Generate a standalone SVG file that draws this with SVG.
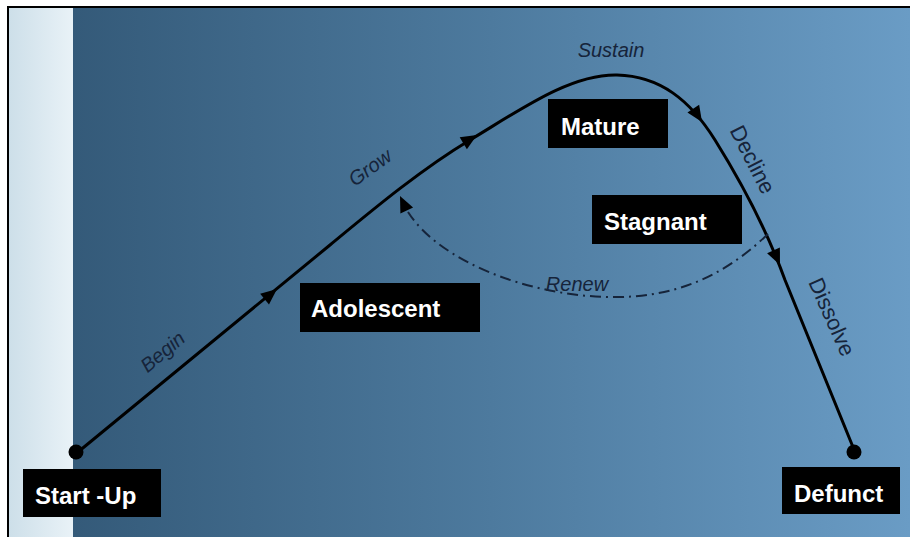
<svg xmlns="http://www.w3.org/2000/svg" width="910" height="537" viewBox="0 0 910 537">
<defs>
<linearGradient id="bg" x1="0" y1="0" x2="1" y2="0">
<stop offset="0" stop-color="#345a79"/>
<stop offset="0.5" stop-color="#4d7a9e"/>
<stop offset="1" stop-color="#6a9cc5"/>
</linearGradient>
<linearGradient id="strip" x1="0" y1="0" x2="1" y2="0">
<stop offset="0" stop-color="#cddfe9"/>
<stop offset="1" stop-color="#e9f2f7"/>
</linearGradient>
<polygon id="ah" points="0,0 -16,-7 -16,7"/>
</defs>
<style>
.box{fill:#000}
.bt{font-family:"Liberation Sans",Arial,sans-serif;font-weight:bold;font-size:24px;fill:#fff}
.lb{font-family:"Liberation Sans",Arial,sans-serif;font-style:italic;font-size:20px;fill:#16243a}
.lr{font-family:"Liberation Sans",Arial,sans-serif;font-size:22px;fill:#16243a}
.curve{fill:none;stroke:#000;stroke-width:3}
.renew{fill:none;stroke:#16243a;stroke-width:2;stroke-dasharray:11 5 2 5}
</style>
<rect x="0" y="0" width="910" height="537" fill="#fff"/>
<rect x="9" y="8" width="64" height="529" fill="url(#strip)"/>
<rect x="73" y="8" width="837" height="529" fill="url(#bg)"/>
<line x1="8" y1="7" x2="910" y2="7" stroke="#000" stroke-width="2"/>
<line x1="8" y1="6" x2="8" y2="537" stroke="#000" stroke-width="2"/>

<g id="connectors">
<path class="curve" d="M78,452 L330,245 C370,212 420,170 470,140 C520,110 570,74 617,75 C660,76 690,100 715,140 C740,180 765,225 785,280 L855,452"/>
<use href="#ah" transform="translate(277,289) rotate(-39)"/>
<use href="#ah" transform="translate(477,135) rotate(-31)"/>
<use href="#ah" transform="translate(702,122) rotate(57)"/>
<use href="#ah" transform="translate(780,265) rotate(66)"/>
<path class="renew" d="M768,234 C720,280 670,298 610,297 C530,296 440,262 408,212"/>
<use href="#ah" fill="#000" transform="translate(400,196) rotate(-115)"/>
<circle cx="76" cy="452" r="7.5" fill="#000"/>
<circle cx="854" cy="452" r="7.5" fill="#000"/>
</g>

<g id="labels">
<text class="lb" transform="translate(167,357) rotate(-40)" text-anchor="middle">Begin</text>
<text class="lb" transform="translate(374,173) rotate(-36)" text-anchor="middle">Grow</text>
<text class="lb" x="611" y="57" text-anchor="middle">Sustain</text>
<text class="lr" transform="translate(746,163) rotate(63)" text-anchor="middle">Decline</text>
<text class="lr" transform="translate(825,320) rotate(66)" text-anchor="middle">Dissolve</text>
<text class="lb" x="577" y="291" text-anchor="middle">Renew</text>
</g>

<g id="startup"><rect class="box" x="23" y="469" width="138" height="48"/><text class="bt" x="35" y="504">Start -Up</text></g>
<g id="adolescent"><rect class="box" x="300" y="283" width="180" height="49"/><text class="bt" x="311" y="317">Adolescent</text></g>
<g id="mature"><rect class="box" x="548" y="99" width="120" height="49"/><text class="bt" x="561" y="135">Mature</text></g>
<g id="stagnant"><rect class="box" x="592" y="195" width="150" height="49"/><text class="bt" x="604" y="230">Stagnant</text></g>
<g id="defunct"><rect class="box" x="782" y="467" width="118" height="47"/><text class="bt" x="794" y="502">Defunct</text></g>
</svg>
